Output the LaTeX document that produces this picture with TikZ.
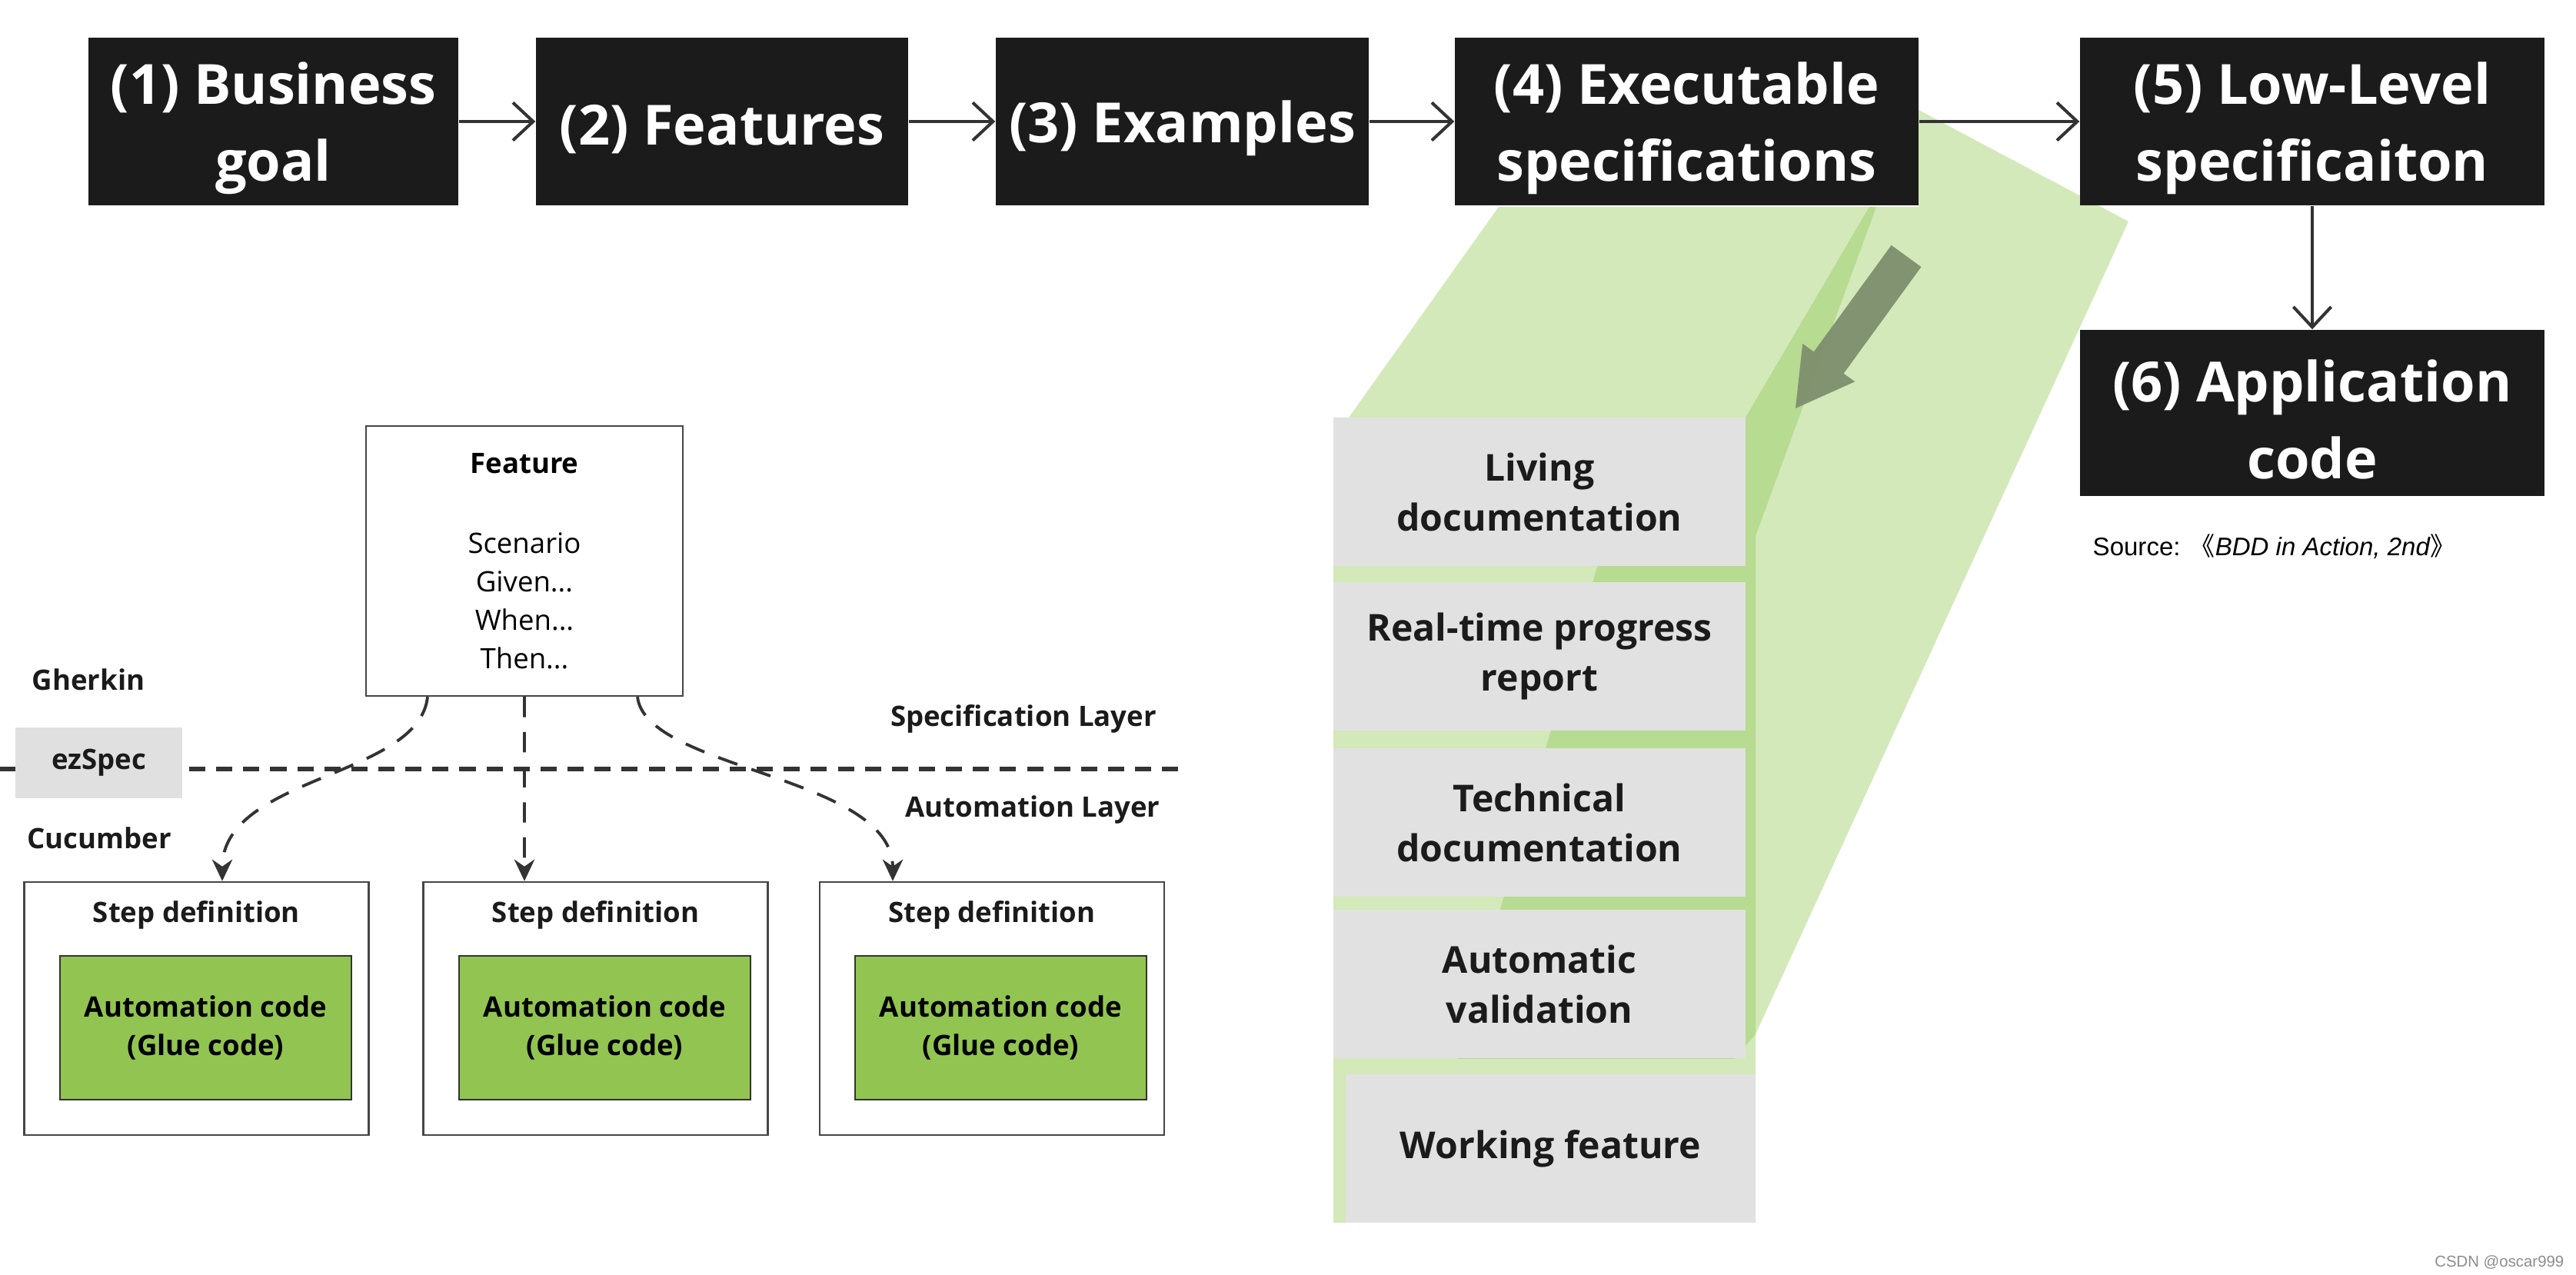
\documentclass[tikz,border=0pt]{standalone}
\usepackage{fontspec}
\setmainfont{Open Sans}
\newfontfamily\srcfont{Liberation Sans}
\newfontfamily\cjkfont{Noto Sans CJK SC}
\definecolor{boxblack}{RGB}{27, 27, 27}
\definecolor{arrowgray}{RGB}{51, 51, 51}
\definecolor{linegray}{RGB}{70, 70, 70}
\definecolor{lightgreen}{RGB}{211, 233, 185}
\definecolor{midgreen}{RGB}{182, 219, 145}
\definecolor{shadegreen}{RGB}{124, 140, 108}
\definecolor{docgray}{RGB}{225, 225, 225}
\definecolor{taggray}{RGB}{224, 224, 224}
\definecolor{gluegreen}{RGB}{146, 196, 82}
\usetikzlibrary{arrows.meta, calc}
\newcommand{\lift}{\rule{0pt}{20.6pt}}

\begin{document}
\begin{tikzpicture}[
  stage/.style={fill=boxblack, text=white, align=center, inner sep=0pt, minimum height=2.18cm,
    font=\bfseries\fontsize{20.5}{28.4}\selectfont},
  flow/.style={draw=arrowgray, line width=1.15pt, -{Straight Barb[length=7.5pt, width=14pt]}},
  layerlabel/.style={inner sep=0pt, text=boxblack, font=\bfseries\fontsize{10.4}{14.2}\selectfont},
  plainbox/.style={draw=linegray, line width=0.7pt, fill=white, align=center, inner sep=0pt,
    font=\fontsize{10.4}{14.2}\selectfont},
  stepbox/.style={draw=linegray, line width=0.7pt, fill=white, minimum width=4.48cm, minimum height=3.29cm},
  gluebox/.style={draw=arrowgray, line width=0.7pt, fill=gluegreen, align=center, inner sep=0pt,
    minimum width=3.79cm, minimum height=1.87cm, font=\bfseries\fontsize{10.4}{14.2}\selectfont},
  docbox/.style={fill=docgray, align=center, inner sep=0pt, minimum width=5.36cm, minimum height=1.93cm,
    text=boxblack, font=\bfseries\fontsize{13.7}{18.5}\selectfont},
  dashlink/.style={draw=arrowgray, line width=1.1pt, dash pattern=on 7.5pt off 5.5pt,
    -{Stealth[length=8pt, width=7.5pt]}}
]
  \useasboundingbox (0,0) rectangle (33.5,-16.58);

  % Green prism behind the outputs
  \fill[lightgreen] (17.54,-5.43) -- (19.49,-2.69) -- (24.95,-2.69) -- (24.95,-1.43) -- (27.68,-2.88)
    -- (22.83,-13.45) -- (22.83,-15.9) -- (17.34,-15.9) -- (17.34,-5.43) -- cycle;
  \fill[midgreen] (24.31,-2.69) -- (24.40,-2.69) -- (22.83,-6.97) -- (22.83,-13.45) -- (22.55,-13.77)
    -- (18.96,-13.77) -- (21.32,-5.43) -- (22.70,-5.43) -- cycle;
  \fill[shadegreen, opacity=0.92] (24.984,-3.471) -- (23.976,-4.857) -- (24.122,-4.963) -- (23.35,-5.31)
    -- (23.442,-4.469) -- (23.588,-4.575) -- (24.596,-3.189) -- cycle;

  % Top row
  \node[stage, minimum width=4.81cm] (goal) at (3.555,-1.58) {\lift(1) Business\\goal};
  \node[stage, minimum width=4.84cm] (features) at (9.39,-1.58) {\lift(2) Features};
  \node[stage, minimum width=4.85cm] (examples) at (15.375,-1.58) {\lift(3) Examples};
  \node[stage, minimum width=6.03cm] (execspec) at (21.935,-1.58) {\lift(4) Executable\\specifications};
  \node[stage, minimum width=6.04cm] (lowspec) at (30.07,-1.58) {\lift(5) Low-Level\\specificaiton};
  \node[stage, minimum width=6.04cm, minimum height=2.16cm] (appcode) at (30.07,-5.37) {\lift(6) Application\\code};

  \draw[flow] (goal) -- (features);
  \draw[flow] (features) -- (examples);
  \draw[flow] (examples) -- (execspec);
  \draw[flow] (execspec) -- (lowspec);
  \draw[flow] (lowspec) -- (appcode);

  \node[anchor=west, inner sep=0pt, font=\srcfont\fontsize{9.4}{11}\selectfont] (source) at (27.21,-7.11)
    {Source: {\cjkfont 《}\textit{BDD in Action, 2nd}{\cjkfont 》}};

  % Living documentation stack
  \node[docbox] (living) at (20.02,-6.395) {Living\\documentation};
  \node[docbox] (progress) at (20.02,-8.535) {Real-time progress\\report};
  \node[docbox] (technical) at (20.02,-10.70) {Technical\\documentation};
  \node[docbox] (validation) at (20.02,-12.80) {Automatic\\validation};
  \node[docbox, minimum width=5.33cm] (working) at (20.165,-14.94) {Working feature};

  % Layers
  \draw[draw=arrowgray, line width=1.5pt, dash pattern=on 6pt off 4pt] (0,-10.0) -- (15.39,-10.0);
  \node[plainbox, minimum width=4.12cm, minimum height=3.51cm] (feature) at (6.82,-7.295)
    {\textbf{Feature}\\[15.6pt]Scenario\\Given...\\When...\\Then...};
  \node[layerlabel] (gherkin) at (1.15,-8.84) {Gherkin};
  \node[layerlabel, fill=taggray, minimum width=2.17cm, minimum height=0.92cm] (ezspec) at (1.285,-9.92) {ezSpec};
  \node[layerlabel] (cucumber) at (1.29,-10.9) {Cucumber};
  \node[layerlabel] (speclayer) at (13.31,-9.35) {Specification Layer};
  \node[layerlabel] (autolayer) at (13.43,-10.53) {Automation Layer};

  % Step definitions
  \node[stepbox] (step1) at (2.555,-13.115) {};
  \node[layerlabel] (step1t) at (2.555,-11.9) {Step definition};
  \node[gluebox] (glue1) at (2.675,-13.365) {Automation code\\(Glue code)};
  \node[stepbox] (step2) at (7.745,-13.115) {};
  \node[layerlabel] (step2t) at (7.745,-11.9) {Step definition};
  \node[gluebox] (glue2) at (7.865,-13.365) {Automation code\\(Glue code)};
  \node[stepbox] (step3) at (12.9,-13.115) {};
  \node[layerlabel] (step3t) at (12.9,-11.9) {Step definition};
  \node[gluebox] (glue3) at (13.015,-13.365) {Automation code\\(Glue code)};

  \draw[dashlink] ([xshift=-1.26cm]feature.south) .. controls +(-0.11,-1.05) and +(0,1.37) .. ([xshift=0.335cm]step1.north);
  \draw[dashlink] (feature.south) -- ([xshift=-0.925cm]step2.north);
  \draw[dashlink] ([xshift=1.47cm]feature.south) .. controls +(0.11,-0.95) and +(0,1.37) .. ([xshift=-1.29cm]step3.north);

  \node[anchor=east, inner sep=0pt, text=black!45, font=\srcfont\fontsize{5.8}{7}\selectfont] (mark) at (33.35,-16.42) {CSDN @oscar999};
\end{tikzpicture}
\end{document}
